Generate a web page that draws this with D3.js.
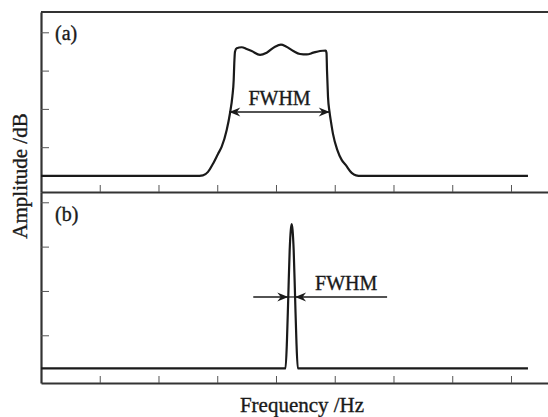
<!DOCTYPE html>
<html>
<head>
<meta charset="utf-8">
<script src="https://d3js.org/d3.v7.min.js"></script>
<style>
    body { margin: 0; background: #fff; }
    svg text { font-family: "Liberation Serif", "Times New Roman", serif; fill: #1a1a1a; stroke: #1a1a1a; stroke-width: 0.35px; }
    .tick line { stroke: #555; stroke-width: 1; }
    .domain { stroke: #333; stroke-width: 2.2; }
</style>
</head>
<body>
<svg width="548" height="417"></svg>
<script>
// (a) broadband spectrum: frequency (tick units) and amplitude (dB)
var freqA = [0, 2.638, 2.757, 2.843, 2.933, 3.013, 3.076, 3.161, 3.217, 3.257, 3.280, 3.290, 3.302, 3.331,
    3.416, 3.501, 3.586, 3.728, 3.842, 3.983, 4.085, 4.170, 4.294, 4.409, 4.523, 4.635, 4.749, 4.846,
    4.860, 4.868, 4.885, 4.911, 4.936, 4.970, 5.043, 5.118, 5.186, 5.288, 5.362, 5.447, 8.289];
var ampA = [-37.5, -37.5, -37.36, -36.45, -34.18, -31.75, -29.85, -25.49, -21.13, -16.80, -12.44, -8.09, -5.06, -4.17,
    -3.91, -4.36, -4.88, -5.92, -5.32, -3.76, -3.24, -3.70, -4.88, -5.66, -5.79, -5.32, -4.88, -4.75,
    -5.40, -9.84, -16.80, -20.79, -23.40, -26.53, -30.71, -33.32, -34.62, -36.71, -37.36, -37.5, -37.5];

// (b) narrow line spectrum
var freqB = [0, 4.162, 4.187, 4.209, 4.233, 4.252, 4.267, 4.282, 4.301, 4.325, 4.347, 4.371, 8.289];
var ampB = [-37.45, -37.45, -31.07, -21.36, -10.76, -6.25, -4.9, -6.25, -10.76, -21.36, -31.07, -37.45, -37.45];

var xTicks = [1, 2, 3, 4, 5, 6, 7, 8];
var yTicks = [-30, -20, -10, 0];

// FWHM markers: [left freq, right freq, level dB]
var fwhmA = [3.205, 4.915, -20.8];
var fwhmB = [4.209, 4.325, -21.36];

var svg = d3.select("svg");

var x = d3.scaleLinear().domain([0, 8.63]).range([41, 548]);
var yA = d3.scaleLinear().domain([-41.7, 5.3]).range([192, 12]);
var yB = d3.scaleLinear().domain([-40.76, 2.32]).range([383, 192]);

// arrow marker
var defs = svg.append("defs");
defs.append("marker")
    .attr("id", "arr")
    .attr("viewBox", "-12 -6 14 12")
    .attr("refX", 0).attr("refY", 0)
    .attr("markerWidth", 14).attr("markerHeight", 12)
    .attr("markerUnits", "userSpaceOnUse")
    .attr("orient", "auto-start-reverse")
    .append("path")
    .attr("d", "M0,0 L-11,-4.5 L-7.5,0 L-11,4.5 Z")
    .attr("fill", "#1a1a1a");

// top frame line
svg.append("line")
    .attr("x1", 41).attr("x2", 548).attr("y1", 12).attr("y2", 12)
    .attr("stroke", "#333").attr("stroke-width", 2.2);

function panel(ys, freq, amp) {
    svg.append("g")
        .attr("transform", "translate(41,0)")
        .call(d3.axisLeft(ys).tickValues(yTicks).tickSize(-8).tickSizeOuter(0).tickFormat(""));
    svg.append("g")
        .attr("transform", "translate(0," + ys.range()[0] + ")")
        .call(d3.axisBottom(x).tickValues(xTicks).tickSize(-7).tickSizeOuter(0).tickFormat(""));

    var line = d3.line()
        .x(function (d, i) { return x(freq[i]); })
        .y(function (d, i) { return ys(amp[i]); })
        .curve(d3.curveMonotoneX);
    svg.append("path")
        .datum(freq)
        .attr("d", line)
        .attr("fill", "none")
        .attr("stroke", "#1a1a1a")
        .attr("stroke-width", 2.2);
}

panel(yA, freqA, ampA);
panel(yB, freqB, ampB);

// (a) FWHM double arrow
svg.append("line")
    .attr("x1", x(fwhmA[0])).attr("x2", x(fwhmA[1]))
    .attr("y1", yA(fwhmA[2])).attr("y2", yA(fwhmA[2]))
    .attr("stroke", "#1a1a1a").attr("stroke-width", 1.6)
    .attr("marker-start", "url(#arr)")
    .attr("marker-end", "url(#arr)");
svg.append("text")
    .attr("x", x((fwhmA[0] + fwhmA[1]) / 2)).attr("y", yA(fwhmA[2]) - 7)
    .attr("text-anchor", "middle")
    .style("font-size", "20px")
    .text("FWHM");

// (b) FWHM inward arrows
svg.append("line")
    .attr("x1", x(fwhmB[0]) - 35).attr("x2", x(fwhmB[0]))
    .attr("y1", yB(fwhmB[2])).attr("y2", yB(fwhmB[2]))
    .attr("stroke", "#1a1a1a").attr("stroke-width", 1.6)
    .attr("marker-end", "url(#arr)");
svg.append("line")
    .attr("x1", x(fwhmB[1]) + 92).attr("x2", x(fwhmB[1]))
    .attr("y1", yB(fwhmB[2])).attr("y2", yB(fwhmB[2]))
    .attr("stroke", "#1a1a1a").attr("stroke-width", 1.6)
    .attr("marker-end", "url(#arr)");
svg.append("line")
    .attr("x1", x(fwhmB[0])).attr("x2", x(fwhmB[1]))
    .attr("y1", yB(fwhmB[2])).attr("y2", yB(fwhmB[2]))
    .attr("stroke", "#1a1a1a").attr("stroke-width", 1.2);
svg.append("text")
    .attr("x", x(fwhmB[1]) + 20).attr("y", yB(fwhmB[2]) - 7)
    .style("font-size", "20px")
    .text("FWHM");

// panel labels
svg.append("text").attr("x", 55).attr("y", 40).style("font-size", "20px").text("(a)");
svg.append("text").attr("x", 55).attr("y", 221).style("font-size", "20px").text("(b)");

// axis titles
svg.append("text")
    .attr("transform", "translate(27,176) rotate(-90)")
    .attr("text-anchor", "middle")
    .style("font-size", "21px")
    .text("Amplitude /dB");
svg.append("text")
    .attr("x", 302).attr("y", 412)
    .attr("text-anchor", "middle")
    .style("font-size", "21px")
    .text("Frequency /Hz");
</script>
</body>
</html>
